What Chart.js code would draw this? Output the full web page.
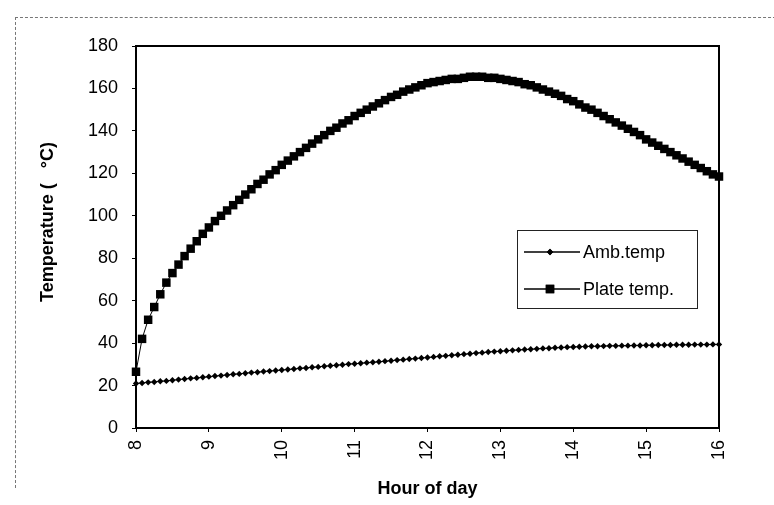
<!DOCTYPE html>
<html>
<head>
<meta charset="utf-8">
<script src="https://cdn.jsdelivr.net/npm/chart.js@4"></script>
<style>
  html, body { margin: 0; padding: 0; background: #fff; }
  #wrap { position: relative; width: 774px; height: 505px; }
  #frame { position: absolute; left: 15px; top: 17px; width: 770px; height: 470px;
           border-top: 1px dashed #777; border-left: 1px dashed #777; }
  canvas { position: absolute; left: 0; top: 0; }
</style>
</head>
<body>
<div id="wrap">
  <div id="frame"></div>
  <canvas id="c" width="774" height="505"></canvas>
</div>
<script>
const TIME_LABELS = [
  "8:00","8:05","8:10","8:15","8:20","8:25","8:30","8:35","8:40","8:45","8:50","8:55",
  "9:00","9:05","9:10","9:15","9:20","9:25","9:30","9:35","9:40","9:45","9:50","9:55",
  "10:00","10:05","10:10","10:15","10:20","10:25","10:30","10:35","10:40","10:45","10:50","10:55",
  "11:00","11:05","11:10","11:15","11:20","11:25","11:30","11:35","11:40","11:45","11:50","11:55",
  "12:00","12:05","12:10","12:15","12:20","12:25","12:30","12:35","12:40","12:45","12:50","12:55",
  "13:00","13:05","13:10","13:15","13:20","13:25","13:30","13:35","13:40","13:45","13:50","13:55",
  "14:00","14:05","14:10","14:15","14:20","14:25","14:30","14:35","14:40","14:45","14:50","14:55",
  "15:00","15:05","15:10","15:15","15:20","15:25","15:30","15:35","15:40","15:45","15:50","15:55",
  "16:00"
];

const AMB_TEMP = [
  21.0,21.2,21.5,21.7,22.0,22.2,22.5,22.8,23.1,23.4,23.6,23.9,
  24.2,24.5,24.7,25.0,25.3,25.5,25.8,26.1,26.3,26.6,26.8,27.1,
  27.3,27.6,27.8,28.1,28.3,28.6,28.8,29.1,29.3,29.6,29.8,30.1,
  30.3,30.5,30.8,31.0,31.2,31.5,31.7,32.0,32.2,32.5,32.7,33.0,
  33.2,33.5,33.8,34.0,34.3,34.5,34.8,35.0,35.3,35.5,35.8,36.0,
  36.2,36.4,36.6,36.8,37.0,37.1,37.3,37.5,37.6,37.8,37.9,38.1,
  38.2,38.3,38.4,38.5,38.5,38.6,38.7,38.7,38.8,38.8,38.9,38.9,
  39.0,39.0,39.1,39.1,39.1,39.2,39.2,39.2,39.3,39.3,39.3,39.4,
  39.4
];

const PLATE_TEMP = [
  26.5,42,51,57,63,68.5,73,77,81,84.5,88,91.5,
  94.5,97.5,100,102.5,105,107.5,110,112.5,115,117,119.5,121.5,
  124,126,128,130,132,134,136,138,140,141.5,143.5,145,
  147,148.5,150,151.5,153,154.5,156,157,158.5,159.5,160.5,161.5,
  162.5,163,163.5,164,164.5,164.5,165,165.5,165.5,165.5,165,165,
  164.5,164,163.5,163,162,161.5,160.5,159.5,158.5,157.5,156.5,155,
  154,152.5,151,150,148.5,147,145.5,144,142.5,141,139.5,138,
  136,134.5,133,131.5,130,128.5,127,125.5,124,122.5,121,119.5,
  118.5
];

const X_TICKS = [8, 9, 10, 11, 12, 13, 14, 15, 16];
const Y_TICKS = [0, 20, 40, 60, 80, 100, 120, 140, 160, 180];
const SERIES_NAMES = ["Amb.temp", "Plate temp."];
const X_TITLE = "Hour of day";
const Y_TITLE = "      Temperature (   \u00B0C)";

function toHours(label) {
  const parts = label.split(":");
  return Number(parts[0]) + Number(parts[1]) / 60;
}
const X_VALUES = TIME_LABELS.map(toHours);
const ambData = X_VALUES.map((x, i) => ({ x: x, y: AMB_TEMP[i] }));
const plateData = X_VALUES.map((x, i) => ({ x: x, y: PLATE_TEMP[i] }));

const FONT = "'Liberation Sans', Arial, sans-serif";

const boxPlugin = {
  id: 'plotBox',
  beforeDatasetsDraw(chart) {
    const { ctx, chartArea: a } = chart;
    ctx.save();
    ctx.strokeStyle = '#000';
    ctx.lineWidth = 2;
    ctx.strokeRect(a.left, a.top, a.right - a.left, a.bottom - a.top);
    ctx.restore();
  }
};

const legendPlugin = {
  id: 'boxLegend',
  afterDraw(chart) {
    const { ctx } = chart;
    const bx = 517, by = 230, bw = 180, bh = 78;
    ctx.save();
    ctx.fillStyle = '#fff';
    ctx.fillRect(bx, by, bw, bh);
    ctx.strokeStyle = '#222';
    ctx.lineWidth = 1;
    ctx.strokeRect(bx + 0.5, by + 0.5, bw, bh);
    const rows = [252, 289];
    chart.data.datasets.forEach((ds, i) => {
      const y = rows[i];
      ctx.strokeStyle = '#000';
      ctx.fillStyle = '#000';
      ctx.lineWidth = 1.5;
      ctx.beginPath();
      ctx.moveTo(524, y);
      ctx.lineTo(580, y);
      ctx.stroke();
      ctx.lineWidth = 0;
      Chart.helpers.drawPoint(ctx, {
        pointStyle: ds.pointStyle,
        radius: ds.pointRadius,
        borderWidth: 0
      }, 550, y);
      ctx.fill();
      ctx.fillStyle = '#000';
      ctx.font = '18px ' + FONT;
      ctx.textBaseline = 'middle';
      ctx.textAlign = 'left';
      ctx.fillText(ds.label, 583, y + 1);
    });
    ctx.restore();
  }
};

new Chart(document.getElementById('c'), {
  type: 'line',
  data: {
    datasets: [
      {
        label: SERIES_NAMES[0],
        data: ambData,
        borderColor: '#000',
        backgroundColor: '#000',
        borderWidth: 1,
        pointStyle: 'rectRot',
        pointRadius: 3.2,
        pointBorderWidth: 0,
        pointBackgroundColor: '#000',
        fill: false,
        clip: false,
        tension: 0
      },
      {
        label: SERIES_NAMES[1],
        data: plateData,
        borderColor: '#000',
        backgroundColor: '#000',
        borderWidth: 1,
        pointStyle: 'rect',
        pointRadius: 6,
        pointBorderWidth: 0,
        pointBackgroundColor: '#000',
        fill: false,
        clip: false,
        tension: 0
      }
    ]
  },
  options: {
    responsive: false,
    animation: false,
    devicePixelRatio: 1,
    layout: { padding: { left: 33, top: 46, right: 55, bottom: 0 } },
    plugins: { legend: { display: false }, tooltip: { enabled: false } },
    scales: {
      x: {
        type: 'linear',
        min: 8, max: 16,
        afterBuildTicks: (s) => { s.ticks = X_TICKS.map(v => ({ value: v })); },
        afterFit: (s) => { s.height = 77; },
        ticks: {
          minRotation: 90, maxRotation: 90,
          color: '#000', padding: 8,
          font: { family: FONT, size: 18 },
          callback: (v) => String(v)
        },
        grid: { display: true, drawOnChartArea: false, drawTicks: true, tickLength: 4, color: '#000', tickColor: '#000' },
        border: { display: true, color: '#000', width: 2 },
        title: { display: true, text: X_TITLE, color: '#000', font: { family: FONT, size: 18, weight: 'bold' }, padding: { top: 0, bottom: 5 } }
      },
      y: {
        type: 'linear',
        min: 0, max: 180,
        afterBuildTicks: (s) => { s.ticks = Y_TICKS.map(v => ({ value: v })); },
        afterFit: (s) => { s.width = 136 - 33; },
        ticks: { color: '#000', padding: 14, font: { family: FONT, size: 18 } },
        grid: { display: true, drawOnChartArea: false, drawTicks: true, tickLength: 4, color: '#000', tickColor: '#000' },
        border: { display: true, color: '#000', width: 2 },
        title: { display: true, text: Y_TITLE, color: '#000', font: { family: FONT, size: 18, weight: 'bold' }, padding: { top: 4, bottom: 4 } }
      }
    }
  },
  plugins: [boxPlugin, legendPlugin]
});
</script>
</body>
</html>
